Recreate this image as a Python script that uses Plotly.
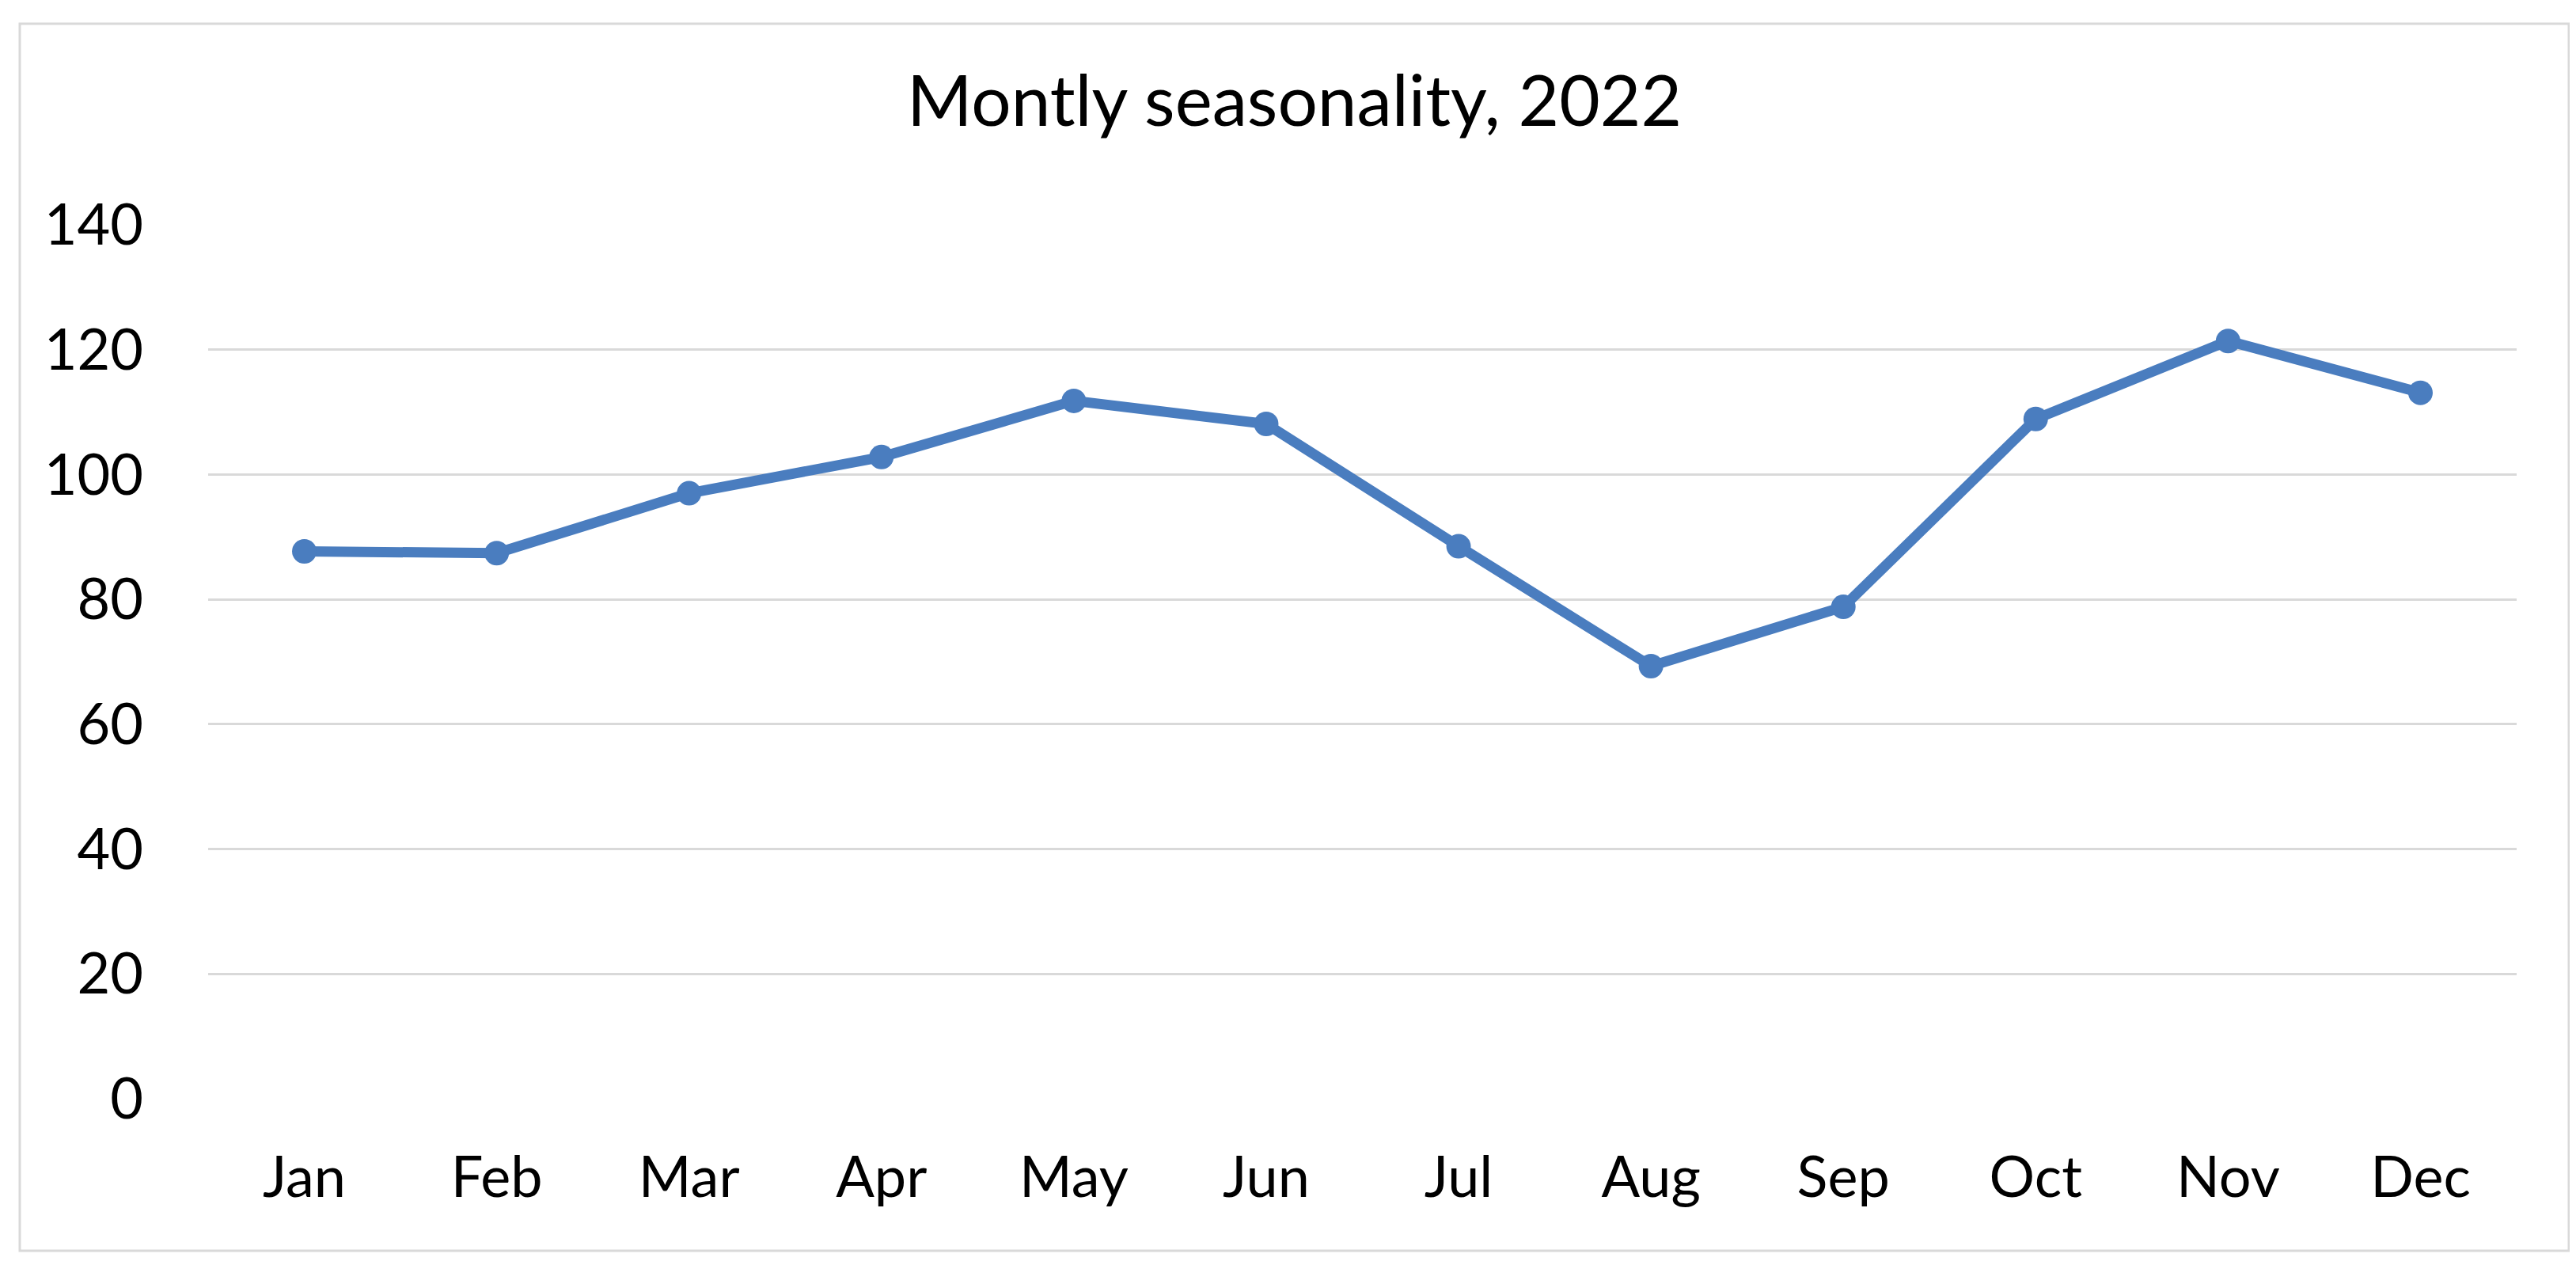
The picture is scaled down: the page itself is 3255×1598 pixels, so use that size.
import plotly.graph_objects as go

# ---- data ----
months = ["Jan", "Feb", "Mar", "Apr", "May", "Jun", "Jul", "Aug", "Sep", "Oct", "Nov", "Dec"]
values = [87.7, 87.4, 97.0, 102.8, 111.8, 108.1, 88.5, 69.3, 78.8, 108.9, 121.4, 113.1]
y_ticks = [0, 20, 40, 60, 80, 100, 120, 140]
title_text = "Montly seasonality, 2022"

# ---- layout geometry (pixels) ----
W, H = 3255, 1598
plot_l, plot_r, plot_t, plot_b = 255, 3172, 276, 1380
border_l, border_t, border_r, border_b = 17, 22, 3238, 1572

line_color = "#4A7DBF"
grid_color = "#D9D9D9"
font_family = "Lato, 'Open Sans', sans-serif"

fig = go.Figure()
fig.add_trace(go.Scatter(
    x=months, y=values, mode="lines+markers",
    line=dict(color=line_color, width=13),
    marker=dict(color=line_color, size=31),
    showlegend=False, hoverinfo="x+y",
))

pw = plot_r - plot_l
ph = plot_b - plot_t


def px_x(p):
    return (p - plot_l) / pw


def px_y(p):
    return (plot_b - p) / ph


fig.update_layout(
    width=W, height=H,
    margin=dict(l=plot_l, r=W - plot_r, t=plot_t, b=H - plot_b, pad=0),
    paper_bgcolor="white", plot_bgcolor="white",
    font=dict(family=font_family, color="#000000"),
    title=dict(text=title_text, x=0.5, xref="container", xanchor="center",
               y=1 - 120 / H, yref="container", yanchor="middle",
               font=dict(size=89, family=font_family, color="#000000")),
    xaxis=dict(
        type="category", range=[-0.5, len(months) - 0.5],
        showgrid=False, showline=False, zeroline=False, ticks="",
        tickfont=dict(size=72, color="#000000"),
        ticklabelstandoff=51,
    ),
    yaxis=dict(
        range=[0, 140], tickvals=y_ticks, ticktext=[str(v) for v in y_ticks],
        showgrid=True, gridcolor=grid_color, gridwidth=3,
        showline=False, zeroline=False, ticks="",
        tickfont=dict(size=72, color="#000000"),
        ticklabelstandoff=81,
    ),
    shapes=[dict(
        type="rect", xref="paper", yref="paper",
        x0=px_x(border_l), x1=px_x(border_r),
        y0=px_y(border_b), y1=px_y(border_t),
        line=dict(color=grid_color, width=3), fillcolor="rgba(0,0,0,0)",
        layer="below",
    )],
)

fig.write_html("out.html")
